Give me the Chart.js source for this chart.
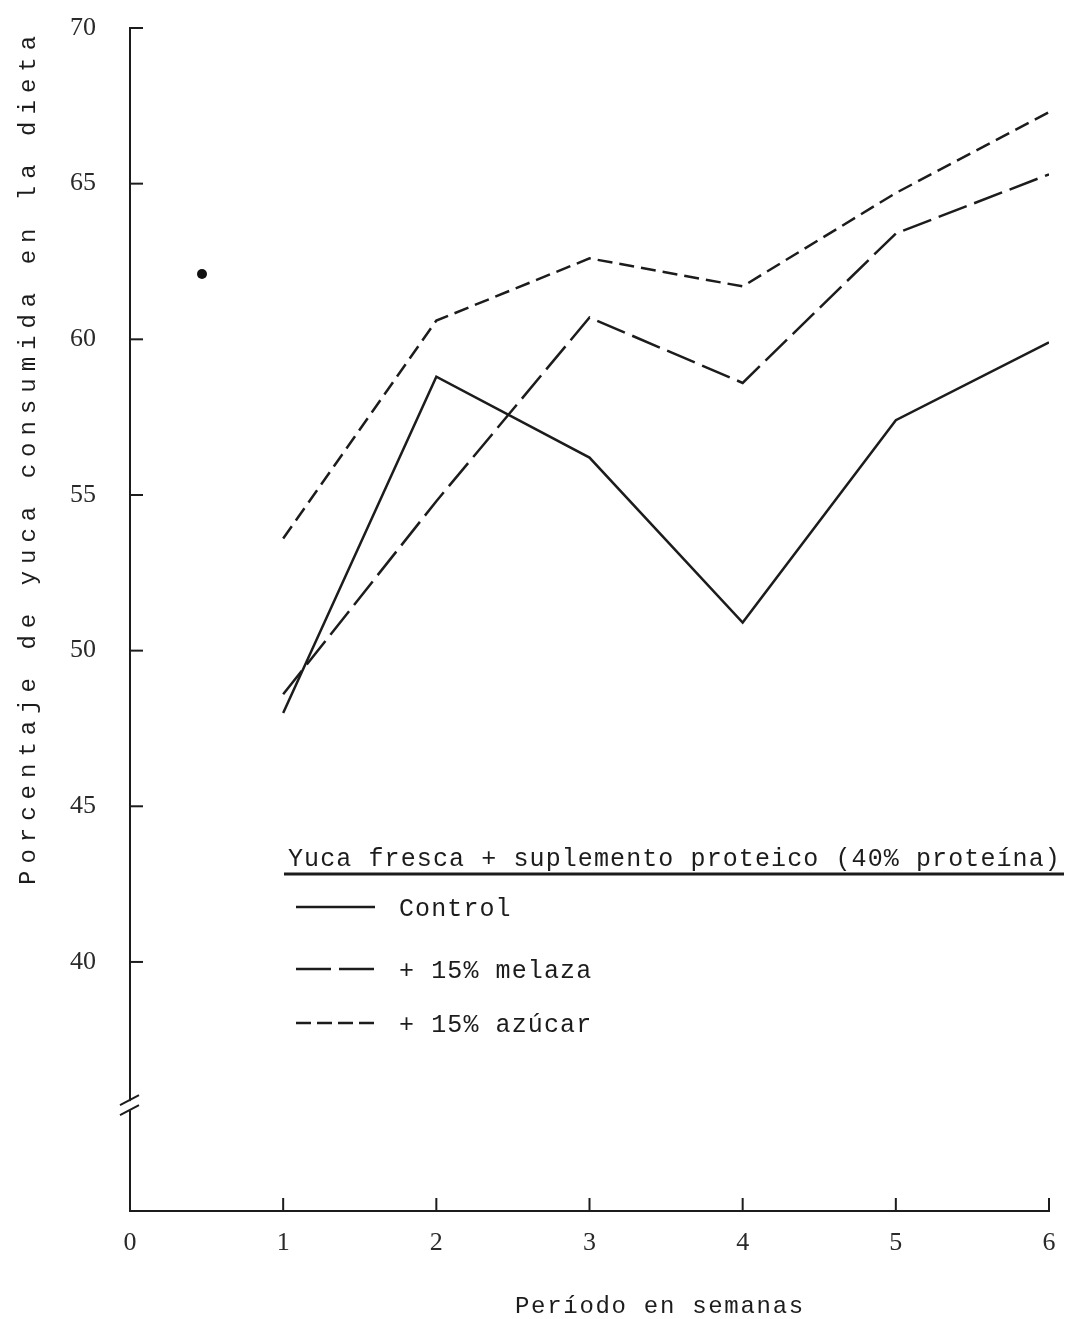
<!DOCTYPE html>
<html>
<head>
<meta charset="utf-8">
<script src="https://cdn.jsdelivr.net/npm/chart.js@4.4.0/dist/chart.umd.min.js"></script>
<style>
html, body { margin: 0; padding: 0; background: #fff; }
#c { display: block; }
</style>
</head>
<body>
<canvas id="c" width="1067" height="1319"></canvas>
<script>
// values
const WEEKS = [1, 2, 3, 4, 5, 6];
const CONTROL = [48.0, 58.8, 56.2, 50.9, 57.4, 59.9];
const MELAZA = [48.6, 54.8, 60.7, 58.6, 63.4, 65.3];
const AZUCAR = [53.6, 60.6, 62.6, 61.7, 64.7, 67.3];
const STRAY_DOT = [{ x: 0.47, y: 62.1 }];

const X_TICKS = [0, 1, 2, 3, 4, 5, 6];
const Y_TICKS = [40, 45, 50, 55, 60, 65, 70];
const Y_BREAK = 35.4;

const LEGEND_TITLE = "Yuca fresca + suplemento proteico (40% proteína)";
const SERIES_LABELS = ["Control", "+ 15% melaza", "+ 15% azúcar"];
const X_TITLE = "Período en semanas";
const Y_TITLE = "Porcentaje de yuca consumida en la dieta";

const INK = "#1c1c1c";
const pts = (ys) => WEEKS.map((w, i) => ({ x: w, y: ys[i] }));

const decor = {
	id: "decor",
	afterDraw(chart) {
		const ctx = chart.ctx;
		const xs = chart.scales.x, ys = chart.scales.y;
		const a = chart.chartArea;
		ctx.save();
		ctx.strokeStyle = INK;
		ctx.lineWidth = 2;

		// inward ticks
		Y_TICKS.forEach(v => {
			const py = ys.getPixelForValue(v);
			ctx.beginPath(); ctx.moveTo(a.left, py); ctx.lineTo(a.left + 13, py); ctx.stroke();
		});
		X_TICKS.slice(1).forEach(v => {
			const px = xs.getPixelForValue(v);
			ctx.beginPath(); ctx.moveTo(px, a.bottom); ctx.lineTo(px, a.bottom - 13); ctx.stroke();
		});

		// axis break
		const by = ys.getPixelForValue(Y_BREAK);
		ctx.fillStyle = "#fff";
		ctx.fillRect(a.left - 3, by - 4, 6, 9);
		ctx.beginPath();
		ctx.moveTo(a.left - 10, by); ctx.lineTo(a.left + 9, by - 10);
		ctx.moveTo(a.left - 10, by + 10); ctx.lineTo(a.left + 9, by);
		ctx.stroke();

		ctx.fillStyle = INK;
		ctx.textBaseline = "alphabetic";
		ctx.textAlign = "left";

		// x title
		ctx.font = "24px 'Liberation Mono'";
		ctx.letterSpacing = "1.7px";
		ctx.fillText(X_TITLE, 515, 1313);

		// y title
		ctx.save();
		ctx.translate(35, 885);
		ctx.rotate(-Math.PI / 2);
		ctx.letterSpacing = "7px";
		ctx.fillText(Y_TITLE, 0, 0);
		ctx.restore();

		// legend
		ctx.font = "25px 'Liberation Mono'";
		ctx.letterSpacing = "1.1px";
		ctx.fillText(LEGEND_TITLE, 288, 866);
		ctx.lineWidth = 3;
		ctx.beginPath(); ctx.moveTo(284, 874); ctx.lineTo(1064, 874); ctx.stroke();

		const rows = [912, 974, 1028];
		chart.data.datasets.slice(0, 3).forEach((ds, i) => {
			const y = rows[i];
			ctx.lineWidth = 2.5;
			ctx.setLineDash(ds.legendDash || []);
			ctx.beginPath(); ctx.moveTo(296, y - 5); ctx.lineTo(375, y - 5); ctx.stroke();
			ctx.setLineDash([]);
			ctx.fillText(SERIES_LABELS[i], 399, y + 4);
		});
		ctx.restore();
	}
};

new Chart(document.getElementById("c"), {
	type: "line",
	data: {
		datasets: [
			{
				label: SERIES_LABELS[0],
				data: pts(CONTROL),
				borderColor: INK,
				borderWidth: 2.5,
				borderDash: [],
				legendDash: [],
				pointRadius: 0,
				tension: 0
			},
			{
				label: SERIES_LABELS[1],
				data: pts(MELAZA),
				borderColor: INK,
				borderWidth: 2.5,
				borderDash: [30, 8],
				legendDash: [35, 8],
				pointRadius: 0,
				tension: 0
			},
			{
				label: SERIES_LABELS[2],
				data: pts(AZUCAR),
				borderColor: INK,
				borderWidth: 2.5,
				borderDash: [15, 7],
				legendDash: [15, 6],
				pointRadius: 0,
				tension: 0
			},
			{
				type: "scatter",
				label: "",
				data: STRAY_DOT,
				pointRadius: 5,
				backgroundColor: "#111",
				borderWidth: 0
			}
		]
	},
	options: {
		responsive: false,
		animation: false,
		devicePixelRatio: 1,
		layout: { padding: { top: 28, right: 18, left: 0, bottom: 0 } },
		plugins: { legend: { display: false }, tooltip: { enabled: false } },
		scales: {
			x: {
				type: "linear",
				min: 0,
				max: 6,
				grid: { display: false },
				border: { display: true, color: INK, width: 2 },
				afterBuildTicks: (s) => { s.ticks = X_TICKS.map(v => ({ value: v })); },
				afterFit: (s) => { s.height = 108; s.paddingLeft = 0; s.paddingRight = 0; },
				ticks: {
					autoSkip: false,
					maxRotation: 0,
					padding: 9,
					color: "#2a2a2a",
					font: { family: "'Liberation Serif'", size: 26 }
				}
			},
			y: {
				type: "linear",
				min: 32,
				max: 70,
				grid: { display: false },
				border: { display: true, color: INK, width: 2 },
				afterBuildTicks: (s) => { s.ticks = Y_TICKS.map(v => ({ value: v })); },
				afterFit: (s) => { s.width = 130; s.paddingTop = 0; s.paddingBottom = 0; },
				ticks: {
					autoSkip: false,
					padding: 26,
					color: "#2a2a2a",
					font: { family: "'Liberation Serif'", size: 26 }
				}
			}
		}
	},
	plugins: [decor]
});
</script>
</body>
</html>
